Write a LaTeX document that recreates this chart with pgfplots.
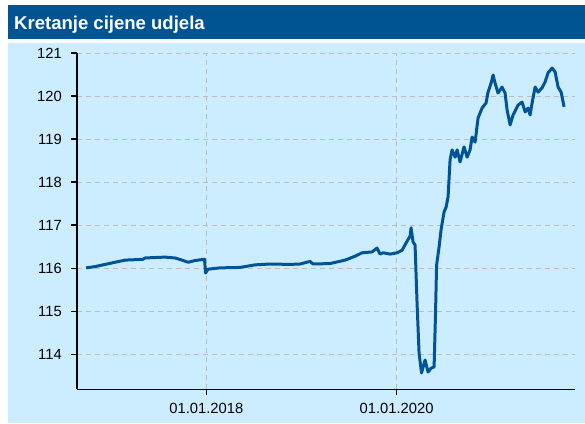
\documentclass[border=0pt]{standalone}
\usepackage{pgfplots}
\pgfplotsset{compat=1.18}
\usepackage{fontspec}
\setmainfont{Liberation Sans}
\definecolor{titleblue}{RGB}{0,84,147}
\definecolor{bgblue}{RGB}{204,236,255}
\definecolor{lineblue}{RGB}{0,84,150}
\definecolor{gridgray}{RGB}{192,188,188}
\begin{document}
\begin{tikzpicture}[x=1bp,y=1bp]
\path[use as bounding box, fill=white] (0,0) rectangle (585,423);
\fill[titleblue] (8,384) rectangle (585,418);
\fill[bgblue] (8,0) rectangle (585,380.5);
\node[anchor=base west, inner sep=0pt, text=white, font=\fontsize{18.6}{20}\selectfont\bfseries] at (14,393.7) {Kretanje cijene udjela};
\begin{axis}[
  at={(77.2bp,33.7bp)}, anchor=south west,
  scale only axis, width=497.8bp, height=336.3bp,
  xmin=2016.643, xmax=2021.875, ymin=113.19, ymax=121,
  axis x line*=bottom, axis y line*=left,
  axis line style={-, line width=1.6pt, black},
  xtick={2018,2020}, xticklabels={01.01.2018,01.01.2020},
  ytick={114,115,116,117,118,119,120,121},
  tick align=outside, major tick length=6bp,
  tick style={black, line width=1.6pt},
  grid=major,
  major grid style={gridgray, line width=0.8pt, dash pattern=on 5bp off 4bp},
  ticklabel style={font=\fontsize{14.8}{16}\selectfont},
  /pgf/number format/assume math mode=true,
  yticklabel style={xshift=-6bp},
  xticklabel style={yshift=-4bp},
  clip=false,
]
\addplot[lineblue, line width=3pt, line join=round] coordinates {
(2016.737,116.01) (2016.831,116.04) (2016.936,116.09) (2017.041,116.14) (2017.146,116.19)
(2017.252,116.20) (2017.335,116.21) (2017.357,116.24) (2017.461,116.25) (2017.566,116.26)
(2017.671,116.24) (2017.745,116.19) (2017.808,116.14) (2017.881,116.18) (2017.981,116.21)
(2017.992,115.89) (2018.018,115.98) (2018.144,116.01) (2018.354,116.02) (2018.512,116.08)
(2018.669,116.10) (2018.879,116.09) (2018.985,116.10) (2019.090,116.16) (2019.121,116.10)
(2019.300,116.11) (2019.458,116.19) (2019.563,116.28) (2019.637,116.36) (2019.742,116.38)
(2019.794,116.47) (2019.826,116.33) (2019.858,116.36) (2019.932,116.33) (2020.005,116.36)
(2020.058,116.42) (2020.100,116.59) (2020.142,116.75) (2020.152,116.94) (2020.173,116.61)
(2020.194,116.54) (2020.215,115.19) (2020.236,114.03) (2020.262,113.57) (2020.299,113.87)
(2020.331,113.59) (2020.362,113.68) (2020.394,113.71) (2020.409,114.96) (2020.420,116.07)
(2020.446,116.49) (2020.467,116.89) (2020.499,117.31) (2020.520,117.42) (2020.541,117.66)
(2020.562,118.52) (2020.583,118.75) (2020.615,118.58) (2020.636,118.75) (2020.667,118.47)
(2020.709,118.82) (2020.741,118.58) (2020.772,118.75) (2020.793,119.05) (2020.825,118.93)
(2020.856,119.49) (2020.898,119.72) (2020.940,119.84) (2020.961,120.09) (2020.993,120.30)
(2021.014,120.49) (2021.035,120.30) (2021.066,120.07) (2021.108,120.21) (2021.140,120.07)
(2021.161,119.68) (2021.193,119.33) (2021.224,119.56) (2021.277,119.79) (2021.319,119.86)
(2021.351,119.63) (2021.382,119.72) (2021.403,119.56) (2021.424,119.84) (2021.456,120.21)
(2021.487,120.09) (2021.529,120.19) (2021.561,120.33) (2021.592,120.54) (2021.634,120.65)
(2021.666,120.56) (2021.697,120.21) (2021.729,120.09) (2021.760,119.75)
};
\end{axis}
\end{tikzpicture}
\end{document}
